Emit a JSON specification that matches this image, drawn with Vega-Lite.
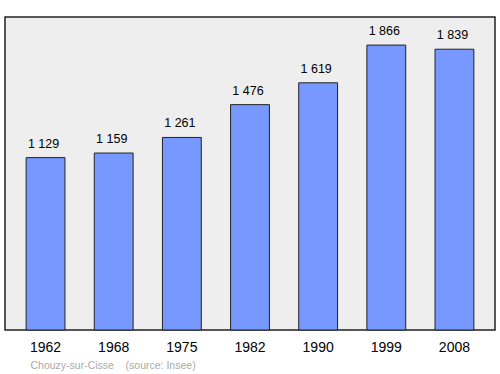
{
  "$schema": "https://vega.github.io/schema/vega-lite/v6.json",
  "width": 490,
  "height": 313,
  "autosize": {"type": "none"},
  "padding": {"left": 5, "top": 17, "right": 5, "bottom": 44},
  "background": "white",
  "config": {
    "font": "Liberation Sans",
    "view": {"fill": "#eeeeee", "stroke": "#222222", "strokeWidth": 1.5},
    "locale": {"number": {"decimal": ",", "thousands": "\u00a0", "grouping": [3], "currency": ["", " €"]}}
  },
  "data": {"values": [
    {"year": "1962", "pop": 1129},
    {"year": "1968", "pop": 1159},
    {"year": "1975", "pop": 1261},
    {"year": "1982", "pop": 1476},
    {"year": "1990", "pop": 1619},
    {"year": "1999", "pop": 1866},
    {"year": "2008", "pop": 1839}
  ]},
  "encoding": {
    "x": {
      "field": "year", "type": "nominal",
      "scale": {"paddingInner": 0.43, "paddingOuter": 0.31},
      "axis": {
        "title": "Chouzy-sur-Cisse\u00a0\u00a0\u00a0\u00a0(source: Insee)",
        "titleFontSize": 10.5, "titleColor": "#aaaaaa", "titleFontWeight": "normal",
        "titleAnchor": "start", "titleAlign": "left", "titleX": 25, "titleY": 35, "titleBaseline": "middle",
        "labelAngle": 0, "labelFontSize": 14, "labelColor": "#000000", "labelPadding": 10,
        "domain": false, "ticks": false, "grid": false
      }
    },
    "y": {
      "field": "pop", "type": "quantitative",
      "scale": {"domain": [0, 2050], "nice": false},
      "axis": null
    }
  },
  "layer": [
    {"mark": {"type": "bar", "fill": "#7799ff", "stroke": "#222222", "strokeWidth": 1}},
    {"mark": {"type": "text", "fontSize": 12.5, "color": "#000000", "baseline": "alphabetic", "dy": -10, "dx": -2},
     "encoding": {"text": {"field": "pop", "type": "quantitative", "format": ",d"}}}
  ]
}
